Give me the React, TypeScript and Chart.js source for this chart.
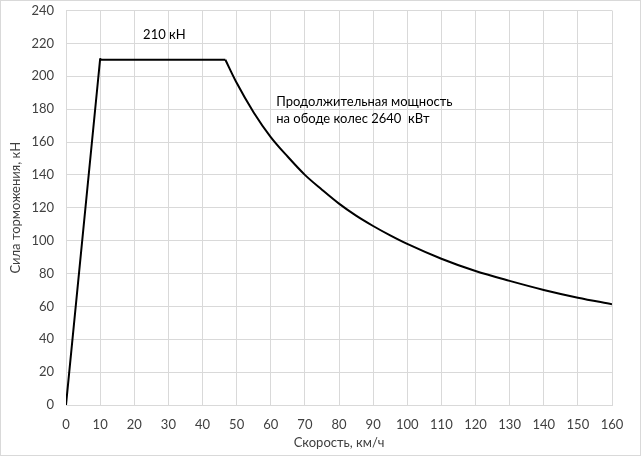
import React, { useEffect, useRef } from "react";
import { Chart, registerables } from "chart.js";

Chart.register(...registerables);

const rampSpeeds = [0, 10, 10.5, 46.7];
const rampForces = [0, 210.5, 210, 210];
const curveSpeeds = [46.7, 50, 55, 60, 65, 70, 75, 80, 85, 90, 95, 100, 110, 120, 130, 140, 150, 160];
const curveForces = [210, 196, 178, 163, 151, 140, 131, 122.5, 115.2, 108.9, 103.2, 98, 89, 81.5, 75.5, 70, 65.3, 61.3];
const xTicks = [0, 10, 20, 30, 40, 50, 60, 70, 80, 90, 100, 110, 120, 130, 140, 150, 160];
const yTicks = [0, 20, 40, 60, 80, 100, 120, 140, 160, 180, 200, 220, 240];
const labelForce = "210 кН";
const labelPower1 = "Продолжительная мощность";
const labelPower2 = "на ободе колес 2640  кВт";
const xTitle = "Скорость, км/ч";
const yTitle = "Сила торможения, кН";

const FONT = "Lato, 'Open Sans', sans-serif";

const textPlugin = {
  id: "texts",
  beforeDraw(chart: any) {
    const { ctx, width, height } = chart;
    ctx.save();
    ctx.fillStyle = "#fff";
    ctx.fillRect(0, 0, width, height);
    ctx.strokeStyle = "#d9d9d9";
    ctx.lineWidth = 1;
    ctx.strokeRect(0.5, 0.5, width - 1, height - 1);
    ctx.restore();
  },
  afterDatasetsDraw(chart: any) {
    const { ctx, scales } = chart;
    const x = scales.x;
    const y = scales.y;
    ctx.save();
    ctx.fillStyle = "#000";
    ctx.font = `13px ${FONT}`;
    ctx.textBaseline = "middle";
    ctx.textAlign = "left";
    ctx.fillText(labelForce, x.getPixelForValue(22.6), y.getPixelForValue(225));
    ctx.fillText(labelPower1, x.getPixelForValue(61.6), y.getPixelForValue(184.5));
    ctx.fillText(labelPower2, x.getPixelForValue(61.6), y.getPixelForValue(174));
    ctx.restore();
  },
};

export default function App() {
  const ref = useRef<HTMLCanvasElement>(null);
  useEffect(() => {
    document.body.style.margin = "0";
    const ramp = rampSpeeds.map((s, i) => ({ x: s, y: rampForces[i] }));
    const curve = curveSpeeds.map((s, i) => ({ x: s, y: curveForces[i] }));
    const common = {
      showLine: true,
      borderColor: "#000",
      borderWidth: 2,
      pointRadius: 0,
      borderJoinStyle: "round",
      fill: false,
    };
    const chart = new Chart(ref.current!, {
      type: "scatter",
      data: {
        datasets: [
          { ...common, data: ramp, tension: 0 } as any,
          { ...common, data: curve, cubicInterpolationMode: "monotone" } as any,
        ],
      },
      options: {
        animation: false,
        responsive: false,
        layout: { padding: { top: 0, right: 29, left: 0, bottom: 0 } },
        plugins: { legend: { display: false }, tooltip: { enabled: false } },
        scales: {
          x: {
            type: "linear",
            min: 0,
            max: 160,
            afterBuildTicks: (s: any) => {
              s.ticks = xTicks.map((v) => ({ value: v }));
            },
            afterFit: (s: any) => {
              s.height = 51;
            },
            grid: { color: "#d9d9d9", lineWidth: 1, drawTicks: false },
            border: { color: "#d9d9d9" },
            ticks: { color: "#404040", font: { family: FONT, size: 13 }, padding: 12, maxRotation: 0, autoSkip: false },
            title: { display: true, text: xTitle, color: "#404040", font: { family: FONT, size: 13 }, padding: { top: 0, bottom: 5 } },
          },
          y: {
            min: 0,
            max: 240,
            afterBuildTicks: (s: any) => {
              s.ticks = yTicks.map((v) => ({ value: v }));
            },
            afterFit: (s: any) => {
              s.width = 66;
              s.paddingTop = 10.5;
              s.paddingBottom = 0;
            },
            grid: { color: "#d9d9d9", lineWidth: 1, drawTicks: false },
            border: { color: "#d9d9d9" },
            ticks: { color: "#404040", font: { family: FONT, size: 13 }, padding: 12, autoSkip: false },
            title: { display: true, text: yTitle, color: "#404040", font: { family: FONT, size: 13 }, padding: { top: 8, bottom: 0 } },
          },
        },
      },
      plugins: [textPlugin],
    });
    return () => chart.destroy();
  }, []);
  return (
    <div style={{ width: 641, height: 456, position: "relative" }}>
      <canvas ref={ref} width={641} height={456} style={{ display: "block" }} />
    </div>
  );
}
